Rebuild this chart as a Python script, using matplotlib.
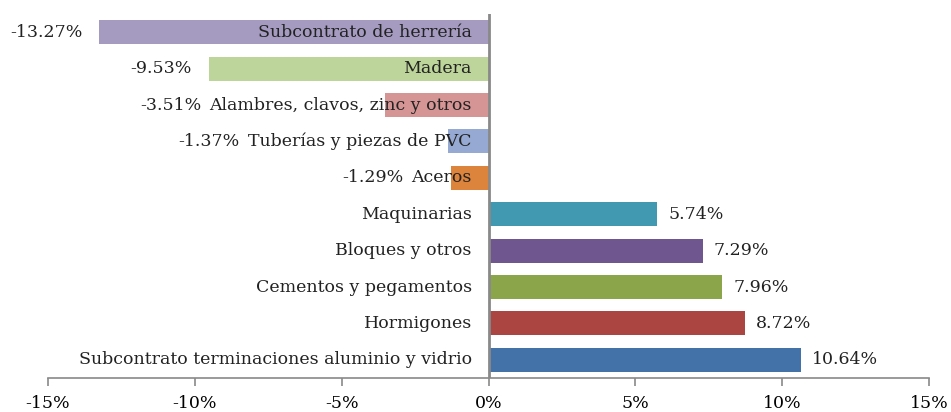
import numpy as np
import matplotlib
matplotlib.use("Agg")
import matplotlib.pyplot as plt

# datos (de abajo hacia arriba)
categorias = ["Subcontrato terminaciones aluminio y vidrio", "Hormigones",
              "Cementos y pegamentos", "Bloques y otros", "Maquinarias",
              "Aceros", "Tuberías y piezas de PVC", "Alambres, clavos, zinc y otros",
              "Madera", "Subcontrato de herrería"]
variacion = [10.64, 8.72, 7.96, 7.29, 5.74, -1.29, -1.37, -3.51, -9.53, -13.27]
colores = ["#4372A8", "#AA4542", "#8BA64A", "#6F568E", "#4099B0",
           "#DC843C", "#95A9D2", "#D49594", "#BDD49A", "#A59BC0"]
ticks = [-15, -10, -5, 0, 5, 10, 15]

plt.rcParams["font.family"] = "DejaVu Serif"
fs = 12.5

fig = plt.figure(figsize=(9.51, 4.12), dpi=100)
ax = fig.add_axes([48 / 951, 34 / 412, 881 / 951, 364 / 412])

y = np.arange(len(categorias))
ax.barh(y, variacion, height=0.66, color=colores, zorder=2)
ax.set_xlim(-15, 15)
ax.set_ylim(-0.5, len(categorias) - 0.5)
ax.axvline(0, color="#898989", lw=2, zorder=3)

for s in ["top", "right", "left"]:
    ax.spines[s].set_visible(False)
ax.spines["bottom"].set_color("#898989")
ax.spines["bottom"].set_linewidth(1.2)
ax.set_yticks([])
ax.set_xticks(ticks)
ax.set_xticklabels([f"{t}%" for t in ticks], fontsize=fs)
ax.tick_params(axis="x", direction="out", length=6, width=1.2, color="#898989", pad=6.5)

# etiquetas de categoria junto al eje cero
etiquetas = []
for yi, c in zip(y, categorias):
    t = ax.annotate(c, (0, yi), xytext=(-12, 0), textcoords="offset points",
                    ha="right", va="center", fontsize=fs, color="#222222", zorder=4)
    etiquetas.append(t)

fig.canvas.draw()
r = fig.canvas.get_renderer()
inv = ax.transData.inverted()
for yi, v, t in zip(y, variacion, etiquetas):
    txt = f"{v:.2f}%"
    if v >= 0:
        ax.annotate(txt, (v, yi), xytext=(8, 0), textcoords="offset points",
                    ha="left", va="center", fontsize=fs, color="#222222")
    else:
        izq = inv.transform(t.get_window_extent(r).get_points())[0][0]
        if v < izq:
            x0, off = v, -12
        else:
            x0, off = izq, -6
        ax.annotate(txt, (x0, yi), xytext=(off, 0), textcoords="offset points",
                    ha="right", va="center", fontsize=fs, color="#222222")

fig.savefig("out.png", dpi=100)
